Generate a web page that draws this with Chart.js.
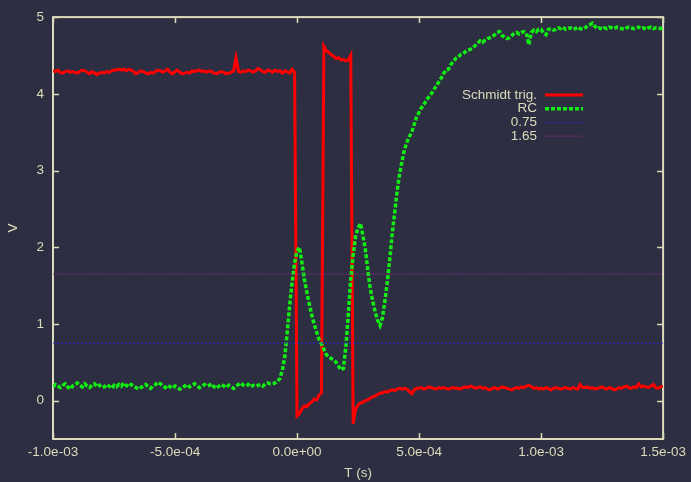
<!DOCTYPE html>
<html>
<head>
<meta charset="utf-8">
<script src="https://cdn.jsdelivr.net/npm/chart.js@4.4.1/dist/chart.umd.min.js"></script>
<style>
  html, body { margin: 0; padding: 0; background: #2d2e41; }
  canvas { display: block; }
</style>
</head>
<body>
<canvas id="scope" width="691" height="482"></canvas>
<script>
// scope capture: one sample every 10 us starting at -1 ms
const SAMPLE_START = -1.0e-3;
const SAMPLE_STEP = 1.0e-5;

const schmidtValues = [
  4.30,4.29,4.31,4.28,4.27,4.29,4.30,4.28,4.29,4.28,
  4.27,4.29,4.31,4.30,4.28,4.26,4.29,4.27,4.25,4.27,
  4.28,4.27,4.29,4.28,4.30,4.31,4.31,4.32,4.31,4.32,
  4.30,4.32,4.31,4.29,4.26,4.28,4.30,4.29,4.27,4.26,
  4.28,4.27,4.29,4.31,4.30,4.28,4.30,4.32,4.28,4.26,
  4.29,4.31,4.28,4.26,4.27,4.28,4.27,4.30,4.29,4.30,
  4.31,4.29,4.30,4.28,4.30,4.29,4.27,4.26,4.28,4.29,
  4.28,4.26,4.27,4.28,4.30,4.47,4.29,4.28,4.30,4.29,
  4.31,4.30,4.28,4.30,4.33,4.31,4.29,4.28,4.31,4.30,
  4.28,4.31,4.29,4.30,4.27,4.30,4.29,4.27,4.32,4.28,
  -0.20,-0.17,-0.11,-0.07,-0.08,-0.04,-0.02,0.02,0.01,0.07,
  0.10,4.62,4.56,4.54,4.51,4.49,4.46,4.47,4.44,4.45,
  4.43,4.44,4.50,-0.30,-0.11,-0.06,-0.03,-0.02,0.00,0.01,
  0.03,0.05,0.06,0.08,0.10,0.10,0.12,0.11,0.13,0.14,
  0.13,0.15,0.16,0.15,0.16,0.15,0.12,0.09,0.14,0.16,
  0.16,0.17,0.15,0.16,0.18,0.17,0.16,0.15,0.17,0.16,
  0.17,0.16,0.15,0.16,0.17,0.16,0.16,0.15,0.17,0.18,
  0.17,0.19,0.18,0.16,0.17,0.18,0.16,0.17,0.15,0.14,
  0.16,0.17,0.15,0.16,0.18,0.17,0.16,0.15,0.14,0.16,
  0.17,0.16,0.18,0.17,0.19,0.20,0.18,0.16,0.17,0.15,
  0.16,0.15,0.17,0.16,0.14,0.16,0.17,0.16,0.15,0.16,
  0.17,0.16,0.15,0.17,0.16,0.15,0.21,0.17,0.17,0.18,
  0.16,0.17,0.15,0.16,0.17,0.18,0.16,0.15,0.17,0.16,
  0.14,0.15,0.17,0.16,0.18,0.19,0.17,0.16,0.18,0.17,
  0.22,0.18,0.19,0.18,0.17,0.19,0.21,0.17,0.16,0.18,0.19
];

const rcValues = [
  0.18,0.21,0.19,0.17,0.20,0.22,0.18,0.15,0.19,0.21,
  0.23,0.20,0.18,0.22,0.19,0.17,0.20,0.22,0.18,0.20,
  0.17,0.18,0.21,0.19,0.16,0.20,0.18,0.21,0.19,0.23,
  0.20,0.18,0.21,0.19,0.17,0.15,0.17,0.19,0.21,0.18,
  0.16,0.19,0.21,0.24,0.22,0.19,0.17,0.20,0.18,0.16,
  0.19,0.17,0.15,0.17,0.19,0.21,0.18,0.20,0.22,0.19,
  0.17,0.19,0.21,0.19,0.20,0.22,0.18,0.16,0.19,0.21,
  0.19,0.17,0.20,0.18,0.16,0.19,0.21,0.23,0.20,0.19,
  0.21,0.18,0.20,0.19,0.20,0.21,0.19,0.22,0.23,0.22,
  0.22,0.23,0.25,0.29,0.40,0.58,0.90,1.25,1.55,1.80,
  1.95,2.00,1.80,1.58,1.42,1.26,1.12,1.00,0.90,0.80,
  0.74,0.67,0.60,0.57,0.55,0.53,0.50,0.45,0.40,0.42,
  0.70,1.12,1.58,1.90,2.14,2.25,2.31,2.15,1.97,1.70,
  1.46,1.30,1.16,1.05,0.98,1.08,1.30,1.55,1.85,2.18,
  2.45,2.73,2.95,3.12,3.27,3.37,3.44,3.50,3.60,3.70,
  3.76,3.82,3.86,3.92,3.96,4.00,4.05,4.10,4.15,4.20,
  4.26,4.31,4.32,4.38,4.42,4.46,4.48,4.51,4.52,4.55,
  4.57,4.58,4.60,4.63,4.66,4.69,4.67,4.70,4.72,4.73,
  4.75,4.77,4.80,4.81,4.76,4.74,4.72,4.73,4.76,4.79,
  4.80,4.78,4.80,4.81,4.79,4.64,4.80,4.83,4.81,4.84,
  4.84,4.79,4.77,4.84,4.85,4.83,4.84,4.86,4.85,4.87,
  4.84,4.85,4.86,4.84,4.85,4.87,4.85,4.84,4.86,4.88,
  4.90,4.92,4.88,4.85,4.86,4.84,4.86,4.85,4.87,4.86,
  4.85,4.87,4.86,4.85,4.84,4.86,4.87,4.86,4.85,4.86,
  4.87,4.85,4.86,4.84,4.86,4.87,4.85,4.86,4.86,4.85,4.86
];

const thresholds = [0.75, 1.65];
const seriesLabels = ['Schmidt trig.', 'RC', '0.75', '1.65'];
const xTicks = [-1.0e-3, -5.0e-4, 0, 5.0e-4, 1.0e-3, 1.5e-3];
const yTicks = [0, 1, 2, 3, 4, 5];
const X_MIN = -1.0e-3, X_MAX = 1.5e-3;
const Y_MIN = -0.5, Y_MAX = 5;

const times = schmidtValues.map((_, i) => SAMPLE_START + i * SAMPLE_STEP);
const toPoints = vals => vals.map((v, i) => ({ x: times[i], y: v }));

const FG = '#dcdcbc';
const FONT = { family: 'Liberation Sans, Arial, sans-serif', size: 13.5 };

// gnuplot uses exponents with at least two digits: 5.0e-04
const fmtExp = v => {
    const [m, e] = Number(v).toExponential(1).split('e');
    const sign = e[0] === '-' ? '-' : '+';
    const digits = e.replace(/[+-]/, '').padStart(2, '0');
    return m + 'e' + sign + digits;
};

// frame with inward ticks on all four sides
const framePlugin = {
    id: 'frame',
    beforeDatasetsDraw(chart) {
        const { ctx, chartArea: a, scales } = chart;
        ctx.save();
        ctx.strokeStyle = FG;
        ctx.lineWidth = 2;
        ctx.strokeRect(a.left, a.top, a.right - a.left, a.bottom - a.top);
        ctx.lineWidth = 1.5;
        ctx.beginPath();
        xTicks.forEach(v => {
            const px = Math.round(scales.x.getPixelForValue(v)) + 0.5;
            ctx.moveTo(px, a.bottom); ctx.lineTo(px, a.bottom - 6);
            ctx.moveTo(px, a.top); ctx.lineTo(px, a.top + 6);
        });
        yTicks.forEach(v => {
            const py = Math.round(scales.y.getPixelForValue(v)) + 0.5;
            ctx.moveTo(a.left, py); ctx.lineTo(a.left + 6, py);
            ctx.moveTo(a.right, py); ctx.lineTo(a.right - 6, py);
        });
        ctx.stroke();
        ctx.restore();
    }
};

// gnuplot style key: right aligned text, sample line after it
const keyPlugin = {
    id: 'key',
    afterDraw(chart) {
        const { ctx } = chart;
        ctx.save();
        ctx.font = `${FONT.size}px ${FONT.family}`;
        ctx.textAlign = 'right';
        ctx.textBaseline = 'middle';
        chart.data.datasets.forEach((ds, i) => {
            const y = 95 + i * 13.7;
            ctx.fillStyle = FG;
            ctx.fillText(ds.label, 537, y);
            ctx.strokeStyle = ds.borderColor;
            ctx.lineWidth = ds.borderWidth;
            ctx.setLineDash(ds.borderDash || []);
            ctx.beginPath();
            ctx.moveTo(545, y);
            ctx.lineTo(583, y);
            ctx.stroke();
        });
        ctx.restore();
    }
};

new Chart(document.getElementById('scope'), {
    type: 'line',
    data: {
        datasets: [
            {
                label: seriesLabels[0],
                data: toPoints(schmidtValues),
                borderColor: '#ff0000',
                borderWidth: 3,
                order: 4
            },
            {
                label: seriesLabels[1],
                data: toPoints(rcValues),
                borderColor: '#11ee11',
                borderWidth: 3.5,
                borderDash: [4, 2],
                order: 3
            },
            {
                label: seriesLabels[2],
                data: [{ x: X_MIN, y: thresholds[0] }, { x: X_MAX, y: thresholds[0] }],
                borderColor: '#2a2ad8',
                borderWidth: 1,
                borderDash: [2, 2],
                order: 2
            },
            {
                label: seriesLabels[3],
                data: [{ x: X_MIN, y: thresholds[1] }, { x: X_MAX, y: thresholds[1] }],
                borderColor: '#a42ca8',
                borderWidth: 1,
                borderDash: [1, 1.5],
                order: 1
            }
        ]
    },
    options: {
        responsive: false,
        animation: false,
        events: [],
        elements: { point: { radius: 0 }, line: { tension: 0 } },
        layout: { padding: { top: 10, right: 26, left: 0, bottom: 0 } },
        plugins: { legend: { display: false }, tooltip: { enabled: false } },
        scales: {
            x: {
                type: 'linear',
                min: X_MIN,
                max: X_MAX,
                afterBuildTicks: s => { s.ticks = xTicks.map(v => ({ value: v })); },
                afterFit: s => { s.height = 43; },
                grid: { display: false, drawTicks: false },
                border: { display: false },
                ticks: {
                    color: FG, font: FONT, padding: 5,
                    maxRotation: 0, autoSkip: false,
                    callback: v => fmtExp(v)
                },
                title: { display: true, text: 'T (s)', color: FG, font: FONT, padding: { top: 0, bottom: 1 } }
            },
            y: {
                min: Y_MIN,
                max: Y_MAX,
                afterBuildTicks: s => { s.ticks = yTicks.map(v => ({ value: v })); },
                afterFit: s => { s.width = 53; },
                grid: { display: false, drawTicks: false },
                border: { display: false },
                ticks: { color: FG, font: FONT, padding: 9, callback: v => String(v) },
                title: { display: true, text: 'V', color: FG, font: FONT, padding: { top: 5, bottom: 0 } }
            }
        }
    },
    plugins: [framePlugin, keyPlugin]
});
</script>
</body>
</html>
